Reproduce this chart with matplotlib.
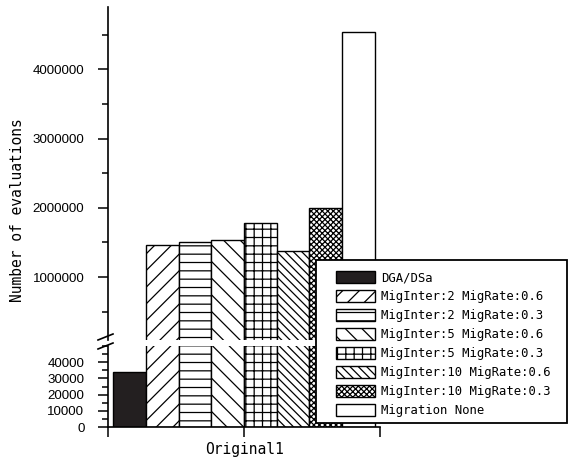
import numpy as np
import matplotlib.pyplot as plt
from matplotlib.patches import Rectangle
from matplotlib.ticker import MultipleLocator, FixedLocator

# evaluations needed for each migration setting
labels = ["DGA/DSa",
          "MigInter:2 MigRate:0.6",
          "MigInter:2 MigRate:0.3",
          "MigInter:5 MigRate:0.6",
          "MigInter:5 MigRate:0.3",
          "MigInter:10 MigRate:0.6",
          "MigInter:10 MigRate:0.3",
          "Migration None"]
values = [34000, 1464000, 1510000, 1530000, 1780000, 1370000, 2000000, 4540000]
category = "Original1"

hatches = ["", "//", "--", "\\\\", "++", "\\\\\\\\", "xxxxxx", ""]
faces = ["#231f20", "white", "white", "white", "white", "white", "white", "white"]

plt.rcParams['hatch.linewidth'] = 0.9
mono = "DejaVu Sans Mono"

W, H = 568, 463
fig = plt.figure(figsize=(W / 100, H / 100), dpi=100)

left = 108 / W
width = (380 - 108) / W
ax_top = fig.add_axes([left, 1 - 340 / H, width, (340 - 7) / H])
ax_bot = fig.add_axes([left, 1 - 427 / H, width, (427 - 346) / H])

bw = 0.12
x = 1 + (np.arange(len(values)) - 3.5) * bw
for ax in (ax_top, ax_bot):
    for i in range(len(values)):
        ax.bar(x[i], values[i], width=bw, color=faces[i], edgecolor="black",
               hatch=hatches[i], linewidth=1.0, label=labels[i])
    ax.set_xlim(0.5, 1.5)
    ax.spines["top"].set_visible(False)
    ax.spines["right"].set_visible(False)
    ax.spines["left"].set_linewidth(1.2)

ax_top.set_ylim(90000, 4900000)
ax_top.spines["bottom"].set_visible(False)
ax_top.set_xticks([])
ax_top.yaxis.set_major_locator(FixedLocator([1000000, 2000000, 3000000, 4000000]))
ax_top.yaxis.set_minor_locator(FixedLocator([500000, 1500000, 2500000, 3500000, 4500000]))
ax_top.yaxis.set_major_formatter(plt.FuncFormatter(lambda v, p: "%d" % v))

ax_bot.set_ylim(0, 50000)
ax_bot.spines["bottom"].set_linewidth(1.2)
ax_bot.yaxis.set_major_locator(FixedLocator([0, 10000, 20000, 30000, 40000]))
ax_bot.yaxis.set_minor_locator(MultipleLocator(5000))
ax_bot.yaxis.set_major_formatter(plt.FuncFormatter(lambda v, p: "%d" % v))
ax_bot.set_xticks([1])
ax_bot.set_xticklabels([category], family=mono, fontsize=10.5)
ax_bot.xaxis.set_minor_locator(FixedLocator([0.5, 1.5]))

for ax in (ax_top, ax_bot):
    ax.tick_params(axis="y", which="major", length=7, width=1.1, pad=10,
                   labelsize=9.6, labelfontfamily="Liberation Sans")
    ax.tick_params(axis="y", which="minor", length=4, width=1.1)
    ax.tick_params(axis="x", which="both", length=7, width=1.1, direction="out")

# break marks on the y axis
for yy in (337, 346):
    fig.add_artist(plt.Line2D([98 / W, 113 / W],
                              [1 - (yy + 3) / H, 1 - (yy - 3) / H],
                              color="black", linewidth=1.2))

fig.text(18 / W, 1 - 210 / H, "Number of evaluations", rotation=90,
         ha="center", va="center", family=mono, fontsize=10.5)

# legend box
fig.add_artist(Rectangle((316 / W, 1 - 423 / H), (567 - 316) / W, (423 - 260) / H,
                         transform=fig.transFigure, facecolor="white",
                         edgecolor="black", linewidth=1.3, zorder=4))
handles, names = ax_top.get_legend_handles_labels()
fig.legend(handles, names, loc="upper left",
           bbox_to_anchor=(336 / W, 1 - 271 / H), frameon=False,
           prop={"family": mono, "size": 8.8}, handlelength=3.2,
           handleheight=1.15, handletextpad=0.5, labelspacing=0.47,
           borderpad=0, borderaxespad=0)

plt.savefig("out.png", dpi=100)
